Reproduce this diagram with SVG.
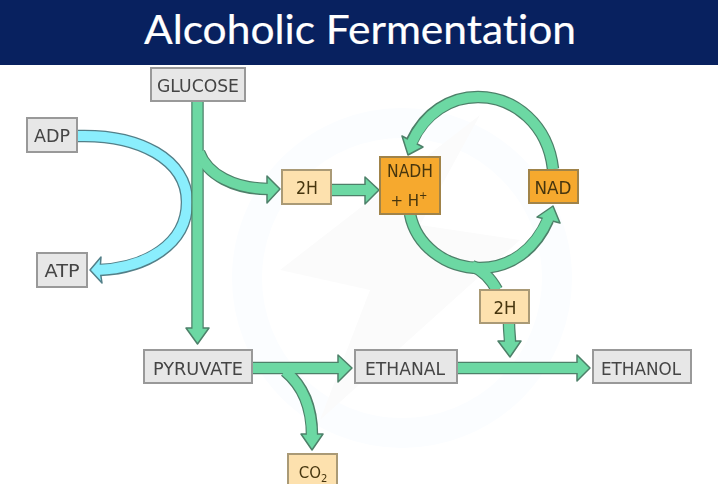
<svg xmlns="http://www.w3.org/2000/svg" width="718" height="484" viewBox="0 0 718 484">
<defs>
<style>
.t{font-family:"DejaVu Sans",sans-serif;font-size:18px;text-anchor:middle;fill:#444}
.d{fill:#463610}
.b{stroke-width:2}
.g{fill:#e7e7e7;stroke:#999}
.l{fill:#fde1ae;stroke:#aa9a76}
.o{fill:#f6a92f;stroke:#a08348}
.so,.sf,.bo,.bf{fill:none}
.so{stroke:#4d8069;stroke-width:12.500}
.sf{stroke:#6cd8a3;stroke-width:10}
.ho{fill:#6cd8a3;stroke:#4d8069;stroke-width:1.500;stroke-linejoin:round}
.bo{stroke:#527f88;stroke-width:12.500}
.bf{stroke:#8aeefd;stroke-width:10}
.hb{fill:#8aeefd;stroke:#527f88;stroke-width:1.500;stroke-linejoin:round}
</style>
<filter id="soft" x="-2%" y="-2%" width="104%" height="104%"><feGaussianBlur stdDeviation="0.6"/></filter>
</defs>
<rect width="718" height="484" fill="#fff"/>
<g id="watermark" fill="none">
<circle cx="402" cy="278" r="155" stroke="#fbfdff" stroke-width="30"/>
<path d="M480 115L280 270L370 290L320 420L520 240L420 225Z" fill="#fbfbfb"/>
</g>
<rect id="header" width="718" height="65" fill="#08215f"/>
<text x="360" y="44" font-family="Lato,sans-serif" font-size="40" fill="#fff" stroke="#fff" stroke-width="0.200" text-anchor="middle" textLength="432" lengthAdjust="spacingAndGlyphs" style="font-variant-ligatures:none">Alcoholic Fermentation</text>
<g filter="url(#soft)">
<g id="connectors">
<g id="atp-cycle">
<path class="bo" d="M77 136C140 134 187 160 187 202C187 245 145 268 100 270"/>
<polygon class="hb" points="90,270 101,257 100,270 102,283"/>
<path class="bf" d="M77 136C140 134 187 160 187 202C187 245 145 268 97 270"/>
</g>
<g id="outlines">
<path class="so" d="M197.500 102V330"/>
<path class="so" d="M199 152C207 175 235 189 268 189"/>
<path class="so" d="M332 190H366"/>
<path class="so" d="M553 169C548 125 515 97 478 97C450 97 425 113 412 141"/>
<path class="so" d="M410 214C416 245 445 268 480 268C510 268 535 250 548 220"/>
<path class="so" d="M472 266C482 270 491 279 497 290"/>
<path class="so" d="M509 324C509 332 510 336 510 342"/>
<path class="so" d="M253 368H339"/>
<path class="so" d="M285 371C302 385 312 405 312 435"/>
<path class="so" d="M458 368H578"/>
</g>
<g id="arrowheads">
<polygon class="ho" points="186,328 209,328 197.500,344"/>
<polygon class="ho" points="267,176 280,189 267,203"/>
<polygon class="ho" points="365,177 379,190 365,204"/>
<polygon class="ho" points="408,155 402,136 423,147"/>
<polygon class="ho" points="553,206 537,217 560,223"/>
<polygon class="ho" points="498,341 521,341 510,357"/>
<polygon class="ho" points="338,355 352,368 338,382"/>
<polygon class="ho" points="301,434 323,434 312,450"/>
<polygon class="ho" points="577,355 590,368 577,381"/>
</g>
<g id="fills">
<path class="sf" d="M197.500 102V332"/>
<path class="sf" d="M199 152C207 175 235 189 271 189"/>
<path class="sf" d="M332 190H369"/>
<path class="sf" d="M553 169C548 125 515 97 478 97C450 97 425 113 411 144"/>
<path class="sf" d="M410 214C416 245 445 268 480 268C510 268 535 250 549 217"/>
<path class="sf" d="M472 266C482 270 491 279 497 290"/>
<path class="sf" d="M509 324C509 332 510 336 510 345"/>
<path class="sf" d="M253 368H342"/>
<path class="sf" d="M285 371C302 385 312 405 312 438"/>
<path class="sf" d="M458 368H581"/>
</g>
</g>
<g id="glucose"><rect class="b g" x="151" y="68" width="94" height="33"/><text class="t" x="198" y="91.500" textLength="82" lengthAdjust="spacingAndGlyphs">GLUCOSE</text></g>
<g id="adp"><rect class="b g" x="27" y="118" width="50" height="34"/><text class="t" x="52" y="141.500" textLength="36" lengthAdjust="spacingAndGlyphs">ADP</text></g>
<g id="atp"><rect class="b g" x="37" y="253" width="50" height="34"/><text class="t" x="62" y="276.500" textLength="35" lengthAdjust="spacingAndGlyphs">ATP</text></g>
<g id="h2-top"><rect class="b l" x="282" y="170" width="49" height="34"/><text class="t d" x="307" y="193.500" textLength="22" lengthAdjust="spacingAndGlyphs">2H</text></g>
<g id="nadh"><rect class="b o" x="380" y="157" width="60" height="57"/><text class="t d" x="410" y="177" textLength="46" lengthAdjust="spacingAndGlyphs">NADH</text><text class="t d" x="409" y="206" style="font-size:15px">+ H<tspan style="font-size:10px" dy="-7">+</tspan></text></g>
<g id="nad"><rect class="b o" x="529" y="170" width="49" height="33"/><text class="t d" x="553" y="193.500" textLength="37" lengthAdjust="spacingAndGlyphs">NAD</text></g>
<g id="h2-bottom"><rect class="b l" x="480" y="290" width="49" height="33"/><text class="t d" x="505" y="313.500" textLength="23" lengthAdjust="spacingAndGlyphs">2H</text></g>
<g id="pyruvate"><rect class="b g" x="144" y="350" width="108" height="33"/><text class="t" x="198" y="374.500" textLength="90" lengthAdjust="spacingAndGlyphs">PYRUVATE</text></g>
<g id="ethanal"><rect class="b g" x="355" y="350" width="102" height="33"/><text class="t" x="405" y="374.500" textLength="80" lengthAdjust="spacingAndGlyphs">ETHANAL</text></g>
<g id="ethanol"><rect class="b g" x="593" y="350" width="98" height="33"/><text class="t" x="641" y="374.500" textLength="80" lengthAdjust="spacingAndGlyphs">ETHANOL</text></g>
<g id="co2"><rect class="b l" x="288" y="454" width="49" height="34"/><text class="t d" x="313" y="478" style="font-size:15px">CO<tspan style="font-size:10px" dy="4">2</tspan></text></g>
</g>
</svg>
